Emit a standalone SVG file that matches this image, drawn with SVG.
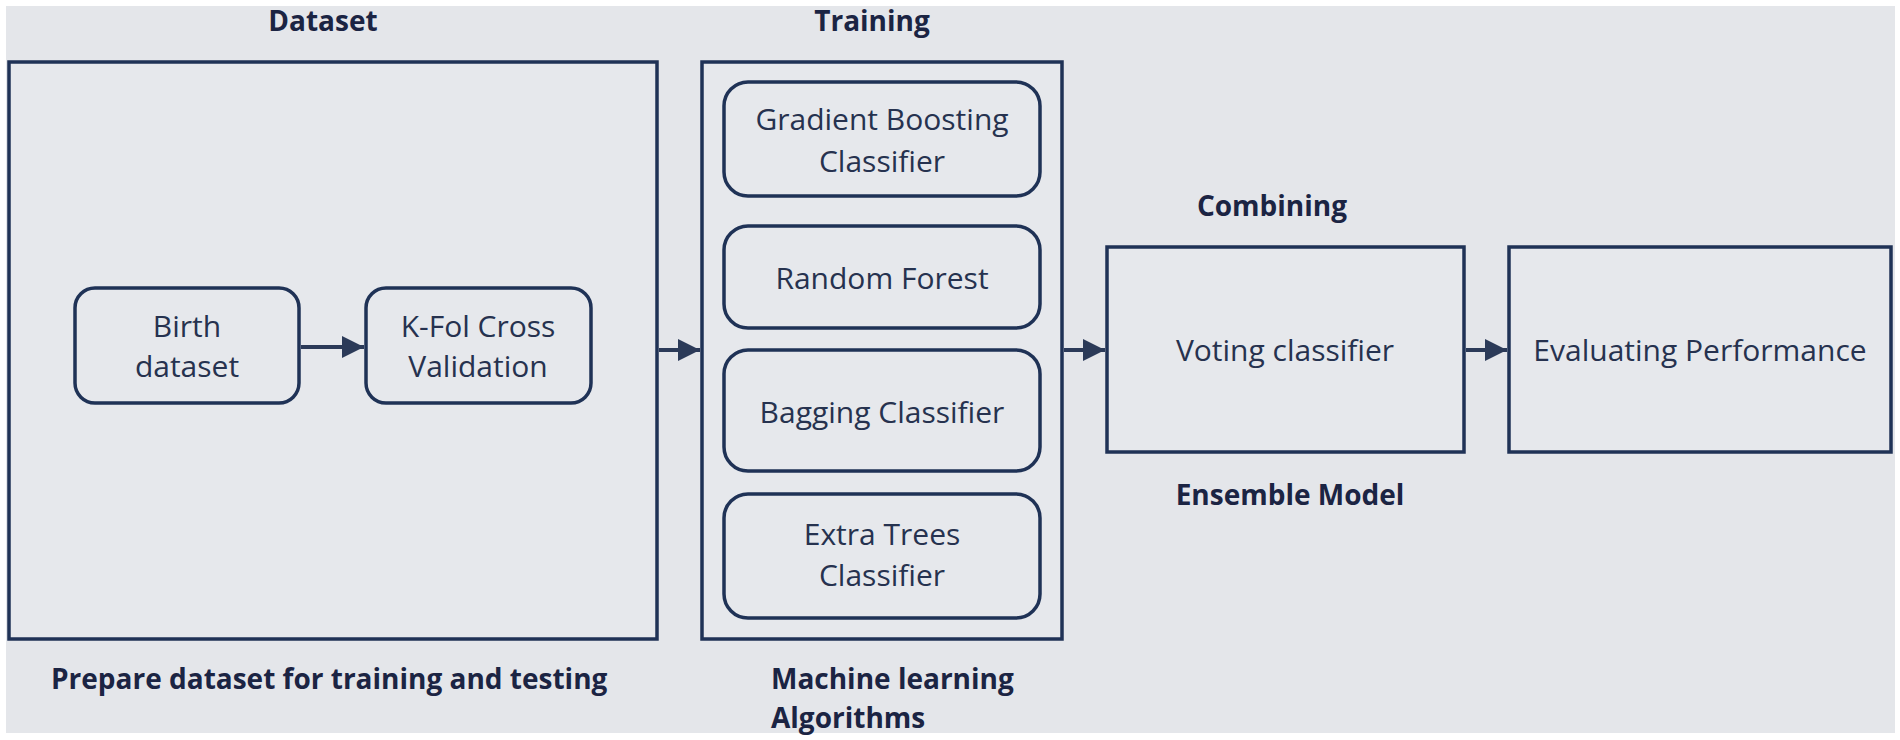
<svg xmlns="http://www.w3.org/2000/svg" width="1900" height="740" viewBox="0 0 1900 740">
<defs>
<marker id="ah" viewBox="0 0 10 10" refX="10" refY="5" markerWidth="5.5" markerHeight="5.5" markerUnits="strokeWidth" orient="auto">
<path d="M0,0 L10,5 L0,10 Z" fill="#2b3a58"/>
</marker>
<style>
.bg{fill:#e4e6ea}
.box{fill:#e6e8ec;stroke:#1f3256;stroke-width:3.5}
.rbox{fill:#e6e8ec;stroke:#1f3256;stroke-width:3.5}
.t{font-family:"Open Sans","Noto Sans","Liberation Sans",sans-serif;font-size:30px;font-weight:500;fill:#26324f;text-anchor:middle}
.lb{font-family:"Open Sans","Noto Sans","Liberation Sans",sans-serif;font-size:28px;font-weight:bold;fill:#1b2443}
.c{text-anchor:middle}
.edge{stroke:#2b3a58;stroke-width:4;fill:none;marker-end:url(#ah)}
</style>
</defs>
<rect x="0" y="0" width="1900" height="740" fill="#ffffff"/>
<rect class="bg" x="6" y="6" width="1889" height="727"/>

<g id="labels">
<text class="lb c" x="323" y="31">Dataset</text>
<text class="lb c" x="872" y="31">Training</text>
<text class="lb c" x="1272" y="216">Combining</text>
<text class="lb c" x="1290" y="505">Ensemble Model</text>
<text class="lb" x="51" y="689">Prepare dataset for training and testing</text>
<text class="lb" x="771" y="689">Machine learning</text>
<text class="lb" x="771" y="728">Algorithms</text>
</g>

<g id="dataset-group">
<rect class="box" x="9" y="62" width="648" height="577"/>
</g>
<g id="training-group">
<rect class="box" x="702" y="62" width="360" height="577"/>
</g>

<g id="birth">
<rect class="rbox" x="75" y="288" width="224" height="115" rx="20"/>
<text class="t" x="187" y="337">Birth</text>
<text class="t" x="187" y="377">dataset</text>
</g>
<g id="kfold">
<rect class="rbox" x="366" y="288" width="225" height="115" rx="20"/>
<text class="t" x="478" y="337">K-Fol Cross</text>
<text class="t" x="478" y="377">Validation</text>
</g>

<g id="gradient">
<rect class="rbox" x="724" y="82" width="316" height="114" rx="24"/>
<text class="t" x="882" y="130">Gradient Boosting</text>
<text class="t" x="882" y="172">Classifier</text>
</g>
<g id="randomforest">
<rect class="rbox" x="724" y="226" width="316" height="102" rx="24"/>
<text class="t" x="882" y="289">Random Forest</text>
</g>
<g id="bagging">
<rect class="rbox" x="724" y="350" width="316" height="121" rx="24"/>
<text class="t" x="882" y="423">Bagging Classifier</text>
</g>
<g id="extratrees">
<rect class="rbox" x="724" y="494" width="316" height="124" rx="24"/>
<text class="t" x="882" y="545">Extra Trees</text>
<text class="t" x="882" y="586">Classifier</text>
</g>

<g id="voting">
<rect class="box" x="1107" y="247" width="357" height="205"/>
<text class="t" x="1285" y="361">Voting classifier</text>
</g>
<g id="evaluating">
<rect class="box" x="1509" y="247" width="382" height="205"/>
<text class="t" x="1700" y="361">Evaluating Performance</text>
</g>

<g id="connectors">
<line class="edge" x1="301" y1="347" x2="364" y2="347"/>
<line class="edge" x1="659" y1="350" x2="700" y2="350"/>
<line class="edge" x1="1064" y1="350" x2="1105" y2="350"/>
<line class="edge" x1="1466" y1="350" x2="1507" y2="350"/>
</g>
</svg>
